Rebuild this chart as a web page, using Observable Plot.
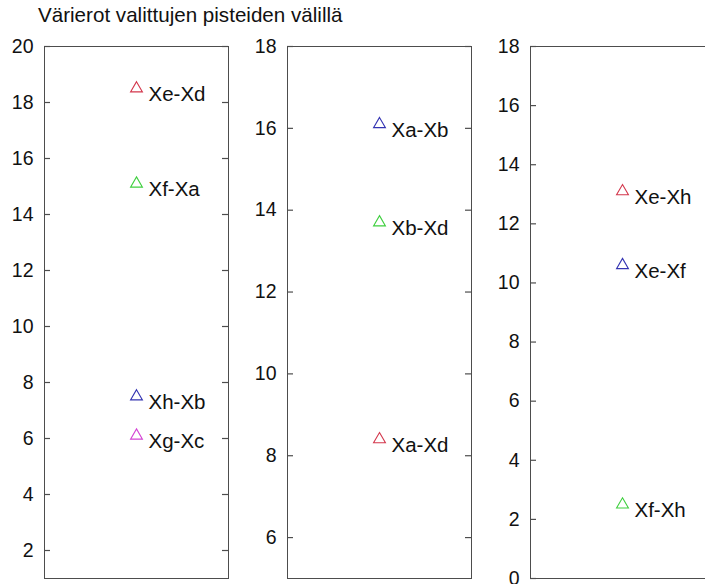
<!DOCTYPE html>
<html><head><meta charset="utf-8">
<script src="https://cdn.jsdelivr.net/npm/d3@7"></script>
<script src="https://cdn.jsdelivr.net/npm/@observablehq/plot@0.6"></script>
<style>
html,body{margin:0;padding:0;background:#fff;}
#wrap{position:relative;width:705px;height:584px;overflow:hidden;font-family:"Liberation Sans",Arial,sans-serif;background:#fff;}
#title{position:absolute;left:38px;top:3px;font-size:20.6px;line-height:24px;color:#111;white-space:nowrap;}
</style></head><body>
<div id="wrap"><div id="title">Värierot valittujen pisteiden välillä</div></div>
<script>
// Panel 1
const panel1Labels = ["Xe-Xd", "Xf-Xa", "Xh-Xb", "Xg-Xc"];
const panel1Values = [18.5, 15.1, 7.5, 6.1];
const panel1Groups = ["r", "g", "b", "m"];
const panel1Ticks = [2, 4, 6, 8, 10, 12, 14, 16, 18, 20];
const panel1Domain = [1, 20];
// Panel 2
const panel2Labels = ["Xa-Xb", "Xb-Xd", "Xa-Xd"];
const panel2Values = [16.1, 13.7, 8.4];
const panel2Groups = ["b", "g", "r"];
const panel2Ticks = [6, 8, 10, 12, 14, 16, 18];
const panel2Domain = [5, 18];
// Panel 3
const panel3Labels = ["Xe-Xh", "Xe-Xf", "Xf-Xh"];
const panel3Values = [13.1, 10.6, 2.5];
const panel3Groups = ["r", "b", "g"];
const panel3Ticks = [0, 2, 4, 6, 8, 10, 12, 14, 16, 18];
const panel3Domain = [0, 18];

const groupDomain = ["r", "g", "b", "m"];
const groupColors = ["#d3374c", "#3fcf3f", "#3434b2", "#d444d4"];

const wrap = document.getElementById("wrap");
const FONT = '"Liberation Sans", Arial, sans-serif';
const xDomain = [0, 2];

function panel(labels, values, groups, domain, ticks, frameLeft) {
  const data = labels.map((l, i) => ({label: l, value: values[i], group: groups[i], pos: 1}));
  const ML = 70, MR = 10, W = 184;
  const tickFrac = 6 / W * (xDomain[1] - xDomain[0]); // inward tick length (6px) in x units
  const svg = Plot.plot({
    width: ML + W + MR, height: 584,
    marginLeft: ML, marginRight: MR, marginTop: 46, marginBottom: 6,
    x: {domain: xDomain, axis: null},
    y: {domain: domain, label: null},
    color: {type: "ordinal", domain: groupDomain, range: groupColors},
    style: {fontFamily: FONT, fontSize: "19.5px", color: "#111", background: "transparent", overflow: "visible"},
    marks: [
      Plot.frame({stroke: "#4d4d4d"}),
      Plot.axisY(ticks, {anchor: "left", tickSize: 0, tickPadding: 11, fill: "#111", fontSize: 19.5, label: null}),
      Plot.ruleY(ticks, {y: d => d, x1: () => xDomain[0], x2: () => xDomain[0] + tickFrac, stroke: "#4d4d4d", strokeWidth: 1.2}),
      Plot.ruleY(ticks, {y: d => d, x1: () => xDomain[1] - tickFrac, x2: () => xDomain[1], stroke: "#4d4d4d", strokeWidth: 1.2}),
      Plot.dot(data, {x: "pos", y: "value", stroke: "group", symbol: "triangle", r: 4.4, strokeWidth: 1.1}),
      Plot.text(data, {x: "pos", y: "value", text: "label", textAnchor: "start", dx: 12, dy: 6, fontSize: 20.5, fill: "#111"})
    ]
  });
  svg.style.position = "absolute";
  svg.style.left = (frameLeft - ML) + "px";
  svg.style.top = "0px";
  wrap.appendChild(svg);
}

panel(panel1Labels, panel1Values, panel1Groups, panel1Domain, panel1Ticks, 44);
panel(panel2Labels, panel2Values, panel2Groups, panel2Domain, panel2Ticks, 287);
panel(panel3Labels, panel3Values, panel3Groups, panel3Domain, panel3Ticks, 530);
</script>
</body></html>
